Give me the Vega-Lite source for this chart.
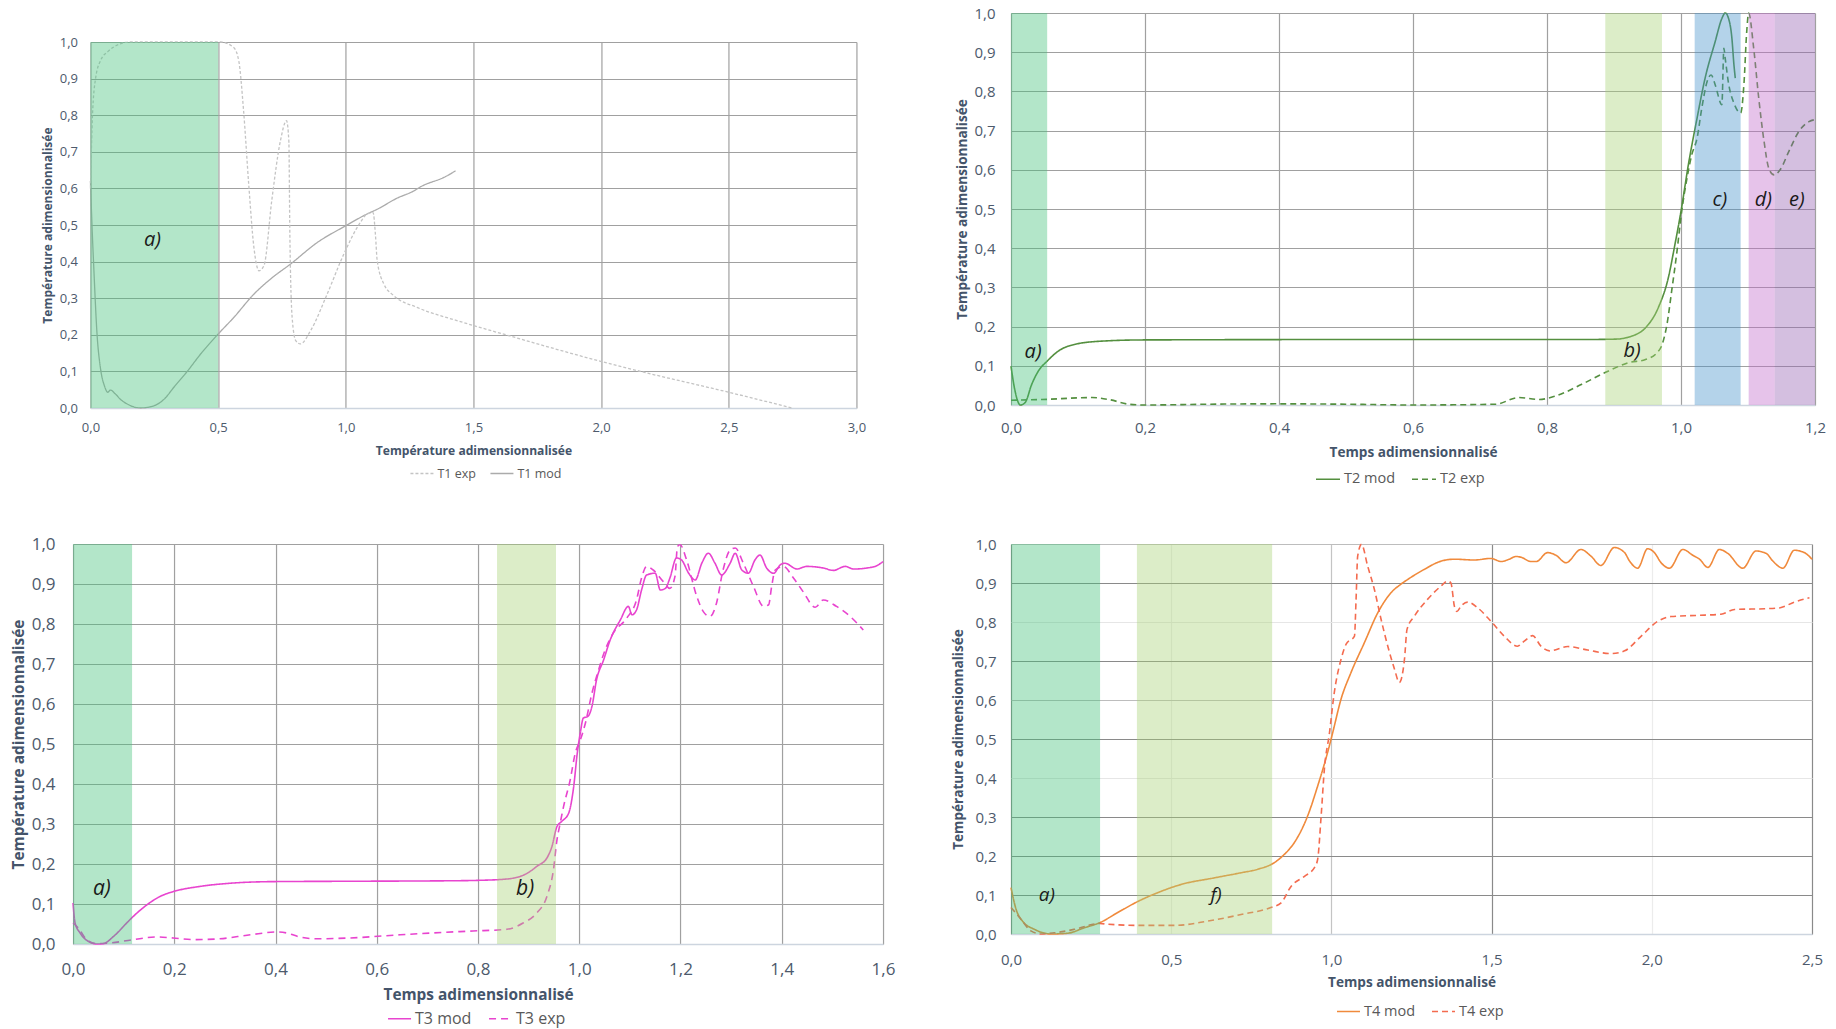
{
"$schema": "https://vega.github.io/schema/vega-lite/v6.json",
"background": "white",
"padding": {"left": 11, "top": 6, "right": 0, "bottom": 6},
"columns": 2,
"align": "each",
"center": true,
"spacing": {"row": 26, "column": 56},
"resolve": {"scale": {"color": "independent", "strokeDash": "independent", "fill": "independent"}},
"config": {
  "font": "Open Sans",
  "view": {"stroke": null},
  "axis": {"ticks": false, "tickSize": 0, "labelColor": "#4d5a6c", "titleColor": "#44546a", "titleFontWeight": "bold", "gridColor": "#a0a0a0", "gridWidth": 1.2, "domain": false, "labelFlush": false, "labelOverlap": false, "tickCount": 30},
  "axisX": {"domain": true, "domainColor": "#cdd5df", "domainWidth": 1.5},
  "legend": {"orient": "none", "direction": "horizontal", "title": null, "symbolType": "stroke", "padding": 0, "labelColor": "#595959", "symbolStrokeWidth": 1.5, "labelOffset": 3}
},
"concat": [
{
  "width": 766, "height": 366,
  "title": {"text": " ", "fontSize": 1, "offset": 0, "anchor": "end", "dx": 12},
  "layer": [
    {"data": {"values": [
      {"s":"T1 mod","t":0,"v":0.62},{"s":"T1 mod","t":0.006,"v":0.5},{"s":"T1 mod","t":0.013,"v":0.385},{"s":"T1 mod","t":0.026,"v":0.2},{"s":"T1 mod","t":0.039,"v":0.11},{"s":"T1 mod","t":0.055,"v":0.06},{"s":"T1 mod","t":0.068,"v":0.043},{"s":"T1 mod","t":0.078,"v":0.049},{"s":"T1 mod","t":0.098,"v":0.038},{"s":"T1 mod","t":0.12,"v":0.022},{"s":"T1 mod","t":0.144,"v":0.011},{"s":"T1 mod","t":0.17,"v":0.003},{"s":"T1 mod","t":0.196,"v":0},{"s":"T1 mod","t":0.248,"v":0.006},{"s":"T1 mod","t":0.29,"v":0.025},{"s":"T1 mod","t":0.326,"v":0.056},{"s":"T1 mod","t":0.379,"v":0.1},{"s":"T1 mod","t":0.431,"v":0.147},{"s":"T1 mod","t":0.5,"v":0.202},{"s":"T1 mod","t":0.561,"v":0.247},{"s":"T1 mod","t":0.64,"v":0.311},{"s":"T1 mod","t":0.71,"v":0.355},{"s":"T1 mod","t":0.783,"v":0.393},{"s":"T1 mod","t":0.888,"v":0.452},{"s":"T1 mod","t":1.0,"v":0.498},{"s":"T1 mod","t":1.083,"v":0.53},{"s":"T1 mod","t":1.123,"v":0.543},{"s":"T1 mod","t":1.2,"v":0.573},{"s":"T1 mod","t":1.266,"v":0.593},{"s":"T1 mod","t":1.292,"v":0.604},{"s":"T1 mod","t":1.39,"v":0.632},{"s":"T1 mod","t":1.43,"v":0.648},
      {"s":"T1 exp","t":0,"v":0.6},{"s":"T1 exp","t":0.008,"v":0.8},{"s":"T1 exp","t":0.02,"v":0.9},{"s":"T1 exp","t":0.04,"v":0.95},{"s":"T1 exp","t":0.07,"v":0.975},{"s":"T1 exp","t":0.117,"v":0.995},{"s":"T1 exp","t":0.15,"v":1.0},{"s":"T1 exp","t":0.509,"v":1.0},{"s":"T1 exp","t":0.561,"v":0.985},{"s":"T1 exp","t":0.581,"v":0.948},{"s":"T1 exp","t":0.6,"v":0.81},{"s":"T1 exp","t":0.62,"v":0.61},{"s":"T1 exp","t":0.64,"v":0.44},{"s":"T1 exp","t":0.66,"v":0.375},{"s":"T1 exp","t":0.68,"v":0.39},{"s":"T1 exp","t":0.71,"v":0.566},{"s":"T1 exp","t":0.744,"v":0.73},{"s":"T1 exp","t":0.768,"v":0.785},{"s":"T1 exp","t":0.777,"v":0.73},{"s":"T1 exp","t":0.781,"v":0.475},{"s":"T1 exp","t":0.79,"v":0.247},{"s":"T1 exp","t":0.804,"v":0.184},{"s":"T1 exp","t":0.822,"v":0.175},{"s":"T1 exp","t":0.862,"v":0.211},{"s":"T1 exp","t":0.927,"v":0.311},{"s":"T1 exp","t":0.992,"v":0.42},{"s":"T1 exp","t":1.057,"v":0.507},{"s":"T1 exp","t":1.083,"v":0.53},{"s":"T1 exp","t":1.107,"v":0.534},{"s":"T1 exp","t":1.116,"v":0.475},{"s":"T1 exp","t":1.123,"v":0.403},{"s":"T1 exp","t":1.149,"v":0.339},{"s":"T1 exp","t":1.188,"v":0.307},{"s":"T1 exp","t":1.279,"v":0.275},{"s":"T1 exp","t":1.449,"v":0.236},{"s":"T1 exp","t":1.632,"v":0.199},{"s":"T1 exp","t":2.001,"v":0.127},{"s":"T1 exp","t":2.154,"v":0.1},{"s":"T1 exp","t":2.5,"v":0.043},{"s":"T1 exp","t":2.748,"v":0.0}
    ]},
    "mark": {"type": "line", "interpolate": "monotone", "strokeWidth": 1.3},
    "encoding": {
      "x": {"field": "t", "type": "quantitative", "scale": {"domain": [0, 3], "nice": false}, "title": "Température adimensionnalisée",
        "axis": {"values": [0,0.5,1,1.5,2,2.5,3], "labelExpr": "replace(format(datum.value,'.1f'),'.',',')", "labelFontSize": 13, "titleFontSize": 12.1, "labelPadding": 13, "titlePadding": 10}},
      "y": {"field": "v", "type": "quantitative", "scale": {"domain": [0, 1], "nice": false}, "title": "Température adimensionnalisée",
        "axis": {"values": [0,0.1,0.2,0.3,0.4,0.5,0.6,0.7,0.8,0.9,1], "labelExpr": "replace(format(datum.value,'.1f'),'.',',')", "labelFontSize": 13, "titleFontSize": 12.1, "labelPadding": 13, "titlePadding": 5}},
      "color": {"field": "s", "type": "nominal", "scale": {"domain": ["T1 exp","T1 mod"], "range": ["#c4c4c4","#ababab"]},
        "legend": {"legendX": 319, "legendY": 419, "symbolSize": 529, "labelFontSize": 12.5, "columnPadding": 11}},
      "strokeDash": {"field": "s", "type": "nominal", "scale": {"domain": ["T1 exp","T1 mod"], "range": [[3,2],[1,0]]},
        "legend": {"legendX": 319, "legendY": 419, "symbolSize": 529, "labelFontSize": 12.5, "columnPadding": 11}}
    }},
    {"data": {"values": [{"zone":"a","t":0,"t2":0.5}]},
     "mark": {"type": "rect", "fillOpacity": 0.4},
     "encoding": {"x": {"field": "t", "type": "quantitative", "title": "Température adimensionnalisée"}, "x2": {"field": "t2"},
       "y": {"datum": 1, "type": "quantitative"}, "y2": {"datum": 0},
       "fill": {"field": "zone", "type": "nominal", "scale": {"domain": ["a"], "range": ["#41c078"]}, "legend": null}}},
    {"data": {"values": [{"t":0.243,"v":0.46,"label":"a)"}]},
     "mark": {"type": "text", "fontStyle": "italic", "fontSize": 20, "color": "#1a1a1a"},
     "encoding": {"x": {"field": "t", "type": "quantitative", "title": "Température adimensionnalisée"}, "y": {"field": "v", "type": "quantitative", "title": "Température adimensionnalisée"}, "text": {"field": "label"}}}
  ]
},
{
  "width": 804, "height": 392,
  "title": {"text": " ", "orient": "bottom", "fontSize": 1, "offset": 22},
  "layer": [
    {"data": {"values": [
      {"s":"T2 mod","t":0,"v":0.099},{"s":"T2 mod","t":0.006,"v":0.036},{"s":"T2 mod","t":0.014,"v":0.0},{"s":"T2 mod","t":0.021,"v":0.006},{"s":"T2 mod","t":0.031,"v":0.053},{"s":"T2 mod","t":0.041,"v":0.087},{"s":"T2 mod","t":0.054,"v":0.112},{"s":"T2 mod","t":0.071,"v":0.138},{"s":"T2 mod","t":0.096,"v":0.155},{"s":"T2 mod","t":0.136,"v":0.163},{"s":"T2 mod","t":0.196,"v":0.166},{"s":"T2 mod","t":0.5,"v":0.167},{"s":"T2 mod","t":0.85,"v":0.167},{"s":"T2 mod","t":0.902,"v":0.168},{"s":"T2 mod","t":0.927,"v":0.176},{"s":"T2 mod","t":0.947,"v":0.197},{"s":"T2 mod","t":0.966,"v":0.248},{"s":"T2 mod","t":0.981,"v":0.324},{"s":"T2 mod","t":0.991,"v":0.41},{"s":"T2 mod","t":1.0,"v":0.494},{"s":"T2 mod","t":1.011,"v":0.613},{"s":"T2 mod","t":1.024,"v":0.732},{"s":"T2 mod","t":1.036,"v":0.834},{"s":"T2 mod","t":1.051,"v":0.927},{"s":"T2 mod","t":1.061,"v":0.986},{"s":"T2 mod","t":1.066,"v":1.0},{"s":"T2 mod","t":1.071,"v":0.986},{"s":"T2 mod","t":1.076,"v":0.935},{"s":"T2 mod","t":1.079,"v":0.868},{"s":"T2 mod","t":1.081,"v":0.834},
      {"s":"T2 exp","t":0,"v":0.012},{"s":"T2 exp","t":0.046,"v":0.014},{"s":"T2 exp","t":0.121,"v":0.019},{"s":"T2 exp","t":0.146,"v":0.014},{"s":"T2 exp","t":0.176,"v":0.002},{"s":"T2 exp","t":0.2,"v":0.0},{"s":"T2 exp","t":0.295,"v":0.002},{"s":"T2 exp","t":0.394,"v":0.003},{"s":"T2 exp","t":0.5,"v":0.002},{"s":"T2 exp","t":0.603,"v":0.0},{"s":"T2 exp","t":0.723,"v":0.002},{"s":"T2 exp","t":0.758,"v":0.019},{"s":"T2 exp","t":0.788,"v":0.014},{"s":"T2 exp","t":0.813,"v":0.023},{"s":"T2 exp","t":0.852,"v":0.053},{"s":"T2 exp","t":0.892,"v":0.087},{"s":"T2 exp","t":0.922,"v":0.108},{"s":"T2 exp","t":0.947,"v":0.116},{"s":"T2 exp","t":0.964,"v":0.133},{"s":"T2 exp","t":0.972,"v":0.155},{"s":"T2 exp","t":0.979,"v":0.205},{"s":"T2 exp","t":0.986,"v":0.29},{"s":"T2 exp","t":0.994,"v":0.392},{"s":"T2 exp","t":1.001,"v":0.494},{"s":"T2 exp","t":1.009,"v":0.579},{"s":"T2 exp","t":1.016,"v":0.638},{"s":"T2 exp","t":1.024,"v":0.681},{"s":"T2 exp","t":1.031,"v":0.757},{"s":"T2 exp","t":1.039,"v":0.825},{"s":"T2 exp","t":1.045,"v":0.842},{"s":"T2 exp","t":1.051,"v":0.817},{"s":"T2 exp","t":1.061,"v":0.766},{"s":"T2 exp","t":1.064,"v":0.91},{"s":"T2 exp","t":1.066,"v":0.884},{"s":"T2 exp","t":1.071,"v":0.82},{"s":"T2 exp","t":1.079,"v":0.77},{"s":"T2 exp","t":1.089,"v":0.745},{"s":"T2 exp","t":1.094,"v":0.82},{"s":"T2 exp","t":1.098,"v":0.95},{"s":"T2 exp","t":1.101,"v":1.0},{"s":"T2 exp","t":1.1085,"v":0.91},{"s":"T2 exp","t":1.116,"v":0.783},{"s":"T2 exp","t":1.124,"v":0.672},{"s":"T2 exp","t":1.131,"v":0.604},{"s":"T2 exp","t":1.139,"v":0.587},{"s":"T2 exp","t":1.148,"v":0.6},{"s":"T2 exp","t":1.161,"v":0.647},{"s":"T2 exp","t":1.176,"v":0.698},{"s":"T2 exp","t":1.191,"v":0.723},{"s":"T2 exp","t":1.2,"v":0.728}
    ]},
    "mark": {"type": "line", "interpolate": "monotone", "strokeWidth": 1.6},
    "encoding": {
      "x": {"field": "t", "type": "quantitative", "scale": {"domain": [0, 1.2], "nice": false}, "title": "Temps adimensionnalisé",
        "axis": {"values": [0,0.2,0.4,0.6,0.8,1,1.2], "labelExpr": "replace(format(datum.value,'.1f'),'.',',')", "labelFontSize": 15, "titleFontSize": 13.6, "labelPadding": 15, "titlePadding": 10}},
      "y": {"field": "v", "type": "quantitative", "scale": {"domain": [0, 1], "nice": false}, "title": "Température adimensionnalisée",
        "axis": {"values": [0,0.1,0.2,0.3,0.4,0.5,0.6,0.7,0.8,0.9,1], "labelExpr": "replace(format(datum.value,'.1f'),'.',',')", "labelFontSize": 15, "titleFontSize": 13.6, "labelPadding": 16, "titlePadding": 4}},
      "color": {"field": "s", "type": "nominal", "scale": {"domain": ["T2 mod","T2 exp"], "range": ["#548f3f","#548f3f"]},
        "legend": {"legendX": 304, "legendY": 453, "symbolSize": 576, "labelFontSize": 14.5, "columnPadding": 13}},
      "strokeDash": {"field": "s", "type": "nominal", "scale": {"domain": ["T2 mod","T2 exp"], "range": [[1,0],[6,4]]},
        "legend": {"legendX": 304, "legendY": 453, "symbolSize": 576, "labelFontSize": 14.5, "columnPadding": 13}}
    }},
    {"data": {"values": [{"zone":"a","t":0,"t2":0.054},{"zone":"b","t":0.887,"t2":0.9716},{"zone":"c","t":1.0204,"t2":1.089},{"zone":"d","t":1.101,"t2":1.1398},{"zone":"e","t":1.1398,"t2":1.2}]},
     "mark": {"type": "rect", "fillOpacity": 0.4},
     "encoding": {"x": {"field": "t", "type": "quantitative", "title": "Temps adimensionnalisé"}, "x2": {"field": "t2"},
       "y": {"datum": 1, "type": "quantitative"}, "y2": {"datum": 0},
       "fill": {"field": "zone", "type": "nominal", "scale": {"domain": ["a","b","c","d","e"], "range": ["#41c078","#a7d275","#4391ca","#c069ca","#935fb1"]}, "legend": null}}},
    {"data": {"values": [{"t":0.033,"v":0.135,"label":"a)"},{"t":0.927,"v":0.138,"label":"b)"},{"t":1.058,"v":0.523,"label":"c)"},{"t":1.123,"v":0.523,"label":"d)"},{"t":1.173,"v":0.523,"label":"e)"}]},
     "mark": {"type": "text", "fontStyle": "italic", "fontSize": 20, "color": "#1a1a1a"},
     "encoding": {"x": {"field": "t", "type": "quantitative", "title": "Temps adimensionnalisé"}, "y": {"field": "v", "type": "quantitative", "title": "Température adimensionnalisée"}, "text": {"field": "label"}}}
  ]
},
{
  "width": 810, "height": 400,
  "layer": [
    {"data": {"values": [
      {"s":"T3 mod","t":0,"v":0.1025},{"s":"T3 mod","t":0.004,"v":0.0525},{"s":"T3 mod","t":0.014,"v":0.0275},{"s":"T3 mod","t":0.034,"v":0.004},{"s":"T3 mod","t":0.047,"v":0},{"s":"T3 mod","t":0.06,"v":0.001},{"s":"T3 mod","t":0.08,"v":0.019},{"s":"T3 mod","t":0.106,"v":0.0525},{"s":"T3 mod","t":0.119,"v":0.069},{"s":"T3 mod","t":0.146,"v":0.098},{"s":"T3 mod","t":0.172,"v":0.119},{"s":"T3 mod","t":0.198,"v":0.131},{"s":"T3 mod","t":0.251,"v":0.144},{"s":"T3 mod","t":0.317,"v":0.1525},{"s":"T3 mod","t":0.396,"v":0.156},{"s":"T3 mod","t":0.514,"v":0.1567},{"s":"T3 mod","t":0.765,"v":0.1583},{"s":"T3 mod","t":0.797,"v":0.159},{"s":"T3 mod","t":0.857,"v":0.1625},{"s":"T3 mod","t":0.896,"v":0.176},{"s":"T3 mod","t":0.916,"v":0.194},{"s":"T3 mod","t":0.936,"v":0.215},{"s":"T3 mod","t":0.946,"v":0.244},{"s":"T3 mod","t":0.956,"v":0.294},{"s":"T3 mod","t":0.965,"v":0.306},{"s":"T3 mod","t":0.979,"v":0.327},{"s":"T3 mod","t":0.989,"v":0.394},{"s":"T3 mod","t":0.996,"v":0.477},{"s":"T3 mod","t":1.002,"v":0.5275},{"s":"T3 mod","t":1.008,"v":0.565},{"s":"T3 mod","t":1.017,"v":0.569},{"s":"T3 mod","t":1.025,"v":0.594},{"s":"T3 mod","t":1.034,"v":0.66},{"s":"T3 mod","t":1.048,"v":0.71},{"s":"T3 mod","t":1.061,"v":0.76},{"s":"T3 mod","t":1.081,"v":0.81},{"s":"T3 mod","t":1.097,"v":0.844},{"s":"T3 mod","t":1.104,"v":0.823},{"s":"T3 mod","t":1.113,"v":0.835},{"s":"T3 mod","t":1.123,"v":0.885},{"s":"T3 mod","t":1.133,"v":0.9225},{"s":"T3 mod","t":1.15,"v":0.927},{"s":"T3 mod","t":1.16,"v":0.885},{"s":"T3 mod","t":1.17,"v":0.889},{"s":"T3 mod","t":1.179,"v":0.915},{"s":"T3 mod","t":1.192,"v":0.965},{"s":"T3 mod","t":1.202,"v":0.96},{"s":"T3 mod","t":1.216,"v":0.927},{"s":"T3 mod","t":1.229,"v":0.91},{"s":"T3 mod","t":1.242,"v":0.952},{"s":"T3 mod","t":1.255,"v":0.977},{"s":"T3 mod","t":1.268,"v":0.952},{"s":"T3 mod","t":1.281,"v":0.9225},{"s":"T3 mod","t":1.298,"v":0.952},{"s":"T3 mod","t":1.308,"v":0.977},{"s":"T3 mod","t":1.321,"v":0.935},{"s":"T3 mod","t":1.334,"v":0.927},{"s":"T3 mod","t":1.347,"v":0.96},{"s":"T3 mod","t":1.357,"v":0.9725},{"s":"T3 mod","t":1.37,"v":0.94},{"s":"T3 mod","t":1.384,"v":0.927},{"s":"T3 mod","t":1.397,"v":0.948},{"s":"T3 mod","t":1.406,"v":0.952},{"s":"T3 mod","t":1.43,"v":0.9375},{"s":"T3 mod","t":1.449,"v":0.944},{"s":"T3 mod","t":1.482,"v":0.94},{"s":"T3 mod","t":1.502,"v":0.934},{"s":"T3 mod","t":1.525,"v":0.944},{"s":"T3 mod","t":1.542,"v":0.9375},{"s":"T3 mod","t":1.568,"v":0.94},{"s":"T3 mod","t":1.588,"v":0.946},{"s":"T3 mod","t":1.6,"v":0.956},
      {"s":"T3 exp","t":0,"v":0.0525},{"s":"T3 exp","t":0.0105,"v":0.04},{"s":"T3 exp","t":0.027,"v":0.011},{"s":"T3 exp","t":0.047,"v":0.001},{"s":"T3 exp","t":0.073,"v":0.0025},{"s":"T3 exp","t":0.119,"v":0.011},{"s":"T3 exp","t":0.165,"v":0.0175},{"s":"T3 exp","t":0.198,"v":0.015},{"s":"T3 exp","t":0.238,"v":0.011},{"s":"T3 exp","t":0.284,"v":0.0125},{"s":"T3 exp","t":0.35,"v":0.023},{"s":"T3 exp","t":0.402,"v":0.03},{"s":"T3 exp","t":0.422,"v":0.0275},{"s":"T3 exp","t":0.448,"v":0.0175},{"s":"T3 exp","t":0.481,"v":0.013},{"s":"T3 exp","t":0.547,"v":0.015},{"s":"T3 exp","t":0.646,"v":0.023},{"s":"T3 exp","t":0.764,"v":0.031},{"s":"T3 exp","t":0.79,"v":0.0325},{"s":"T3 exp","t":0.857,"v":0.0367},{"s":"T3 exp","t":0.889,"v":0.0525},{"s":"T3 exp","t":0.916,"v":0.0775},{"s":"T3 exp","t":0.936,"v":0.119},{"s":"T3 exp","t":0.949,"v":0.186},{"s":"T3 exp","t":0.956,"v":0.261},{"s":"T3 exp","t":0.961,"v":0.294},{"s":"T3 exp","t":0.969,"v":0.344},{"s":"T3 exp","t":0.982,"v":0.41},{"s":"T3 exp","t":0.992,"v":0.477},{"s":"T3 exp","t":1.002,"v":0.51},{"s":"T3 exp","t":1.012,"v":0.552},{"s":"T3 exp","t":1.025,"v":0.627},{"s":"T3 exp","t":1.038,"v":0.685},{"s":"T3 exp","t":1.051,"v":0.735},{"s":"T3 exp","t":1.067,"v":0.777},{"s":"T3 exp","t":1.094,"v":0.815},{"s":"T3 exp","t":1.113,"v":0.86},{"s":"T3 exp","t":1.123,"v":0.915},{"s":"T3 exp","t":1.133,"v":0.944},{"s":"T3 exp","t":1.146,"v":0.935},{"s":"T3 exp","t":1.166,"v":0.906},{"s":"T3 exp","t":1.179,"v":0.889},{"s":"T3 exp","t":1.189,"v":0.919},{"s":"T3 exp","t":1.194,"v":0.994},{"s":"T3 exp","t":1.199,"v":0.998},{"s":"T3 exp","t":1.212,"v":0.96},{"s":"T3 exp","t":1.232,"v":0.869},{"s":"T3 exp","t":1.245,"v":0.831},{"s":"T3 exp","t":1.258,"v":0.819},{"s":"T3 exp","t":1.271,"v":0.852},{"s":"T3 exp","t":1.284,"v":0.935},{"s":"T3 exp","t":1.298,"v":0.985},{"s":"T3 exp","t":1.308,"v":0.99},{"s":"T3 exp","t":1.324,"v":0.952},{"s":"T3 exp","t":1.344,"v":0.894},{"s":"T3 exp","t":1.364,"v":0.844},{"s":"T3 exp","t":1.374,"v":0.848},{"s":"T3 exp","t":1.38,"v":0.894},{"s":"T3 exp","t":1.387,"v":0.935},{"s":"T3 exp","t":1.403,"v":0.944},{"s":"T3 exp","t":1.423,"v":0.915},{"s":"T3 exp","t":1.442,"v":0.881},{"s":"T3 exp","t":1.466,"v":0.842},{"s":"T3 exp","t":1.482,"v":0.86},{"s":"T3 exp","t":1.508,"v":0.844},{"s":"T3 exp","t":1.535,"v":0.819},{"s":"T3 exp","t":1.561,"v":0.785}
    ]},
    "mark": {"type": "line", "interpolate": "monotone", "strokeWidth": 1.6},
    "encoding": {
      "x": {"field": "t", "type": "quantitative", "scale": {"domain": [0, 1.6], "nice": false}, "title": "Temps adimensionnalisé",
        "axis": {"values": [0,0.2,0.4,0.6,0.8,1,1.2,1.4,1.6], "labelExpr": "replace(format(datum.value,'.1f'),'.',',')", "labelFontSize": 17, "titleFontSize": 15.4, "labelPadding": 17, "titlePadding": 10}},
      "y": {"field": "v", "type": "quantitative", "scale": {"domain": [0, 1], "nice": false}, "title": "Température adimensionnalisée",
        "axis": {"values": [0,0.1,0.2,0.3,0.4,0.5,0.6,0.7,0.8,0.9,1], "labelExpr": "replace(format(datum.value,'.1f'),'.',',')", "labelFontSize": 17, "titleFontSize": 15.4, "labelPadding": 18, "titlePadding": 5}},
      "color": {"field": "s", "type": "nominal", "scale": {"domain": ["T3 mod","T3 exp"], "range": ["#e844cf","#e844cf"]},
        "legend": {"legendX": 314, "legendY": 462, "symbolSize": 529, "labelFontSize": 16, "columnPadding": 14}},
      "strokeDash": {"field": "s", "type": "nominal", "scale": {"domain": ["T3 mod","T3 exp"], "range": [[1,0],[7,5]]},
        "legend": {"legendX": 314, "legendY": 462, "symbolSize": 529, "labelFontSize": 16, "columnPadding": 14}}
    }},
    {"data": {"values": [{"zone":"a","t":0,"t2":0.1166},{"zone":"b","t":0.8375,"t2":0.954}]},
     "mark": {"type": "rect", "fillOpacity": 0.4},
     "encoding": {"x": {"field": "t", "type": "quantitative", "title": "Temps adimensionnalisé"}, "x2": {"field": "t2"},
       "y": {"datum": 1, "type": "quantitative"}, "y2": {"datum": 0},
       "fill": {"field": "zone", "type": "nominal", "scale": {"domain": ["a","b"], "range": ["#41c078","#a7d275"]}, "legend": null}}},
    {"data": {"values": [{"t":0.057,"v":0.1375,"label":"a)"},{"t":0.893,"v":0.1375,"label":"b)"}]},
     "mark": {"type": "text", "fontStyle": "italic", "fontSize": 21, "color": "#1a1a1a"},
     "encoding": {"x": {"field": "t", "type": "quantitative", "title": "Temps adimensionnalisé"}, "y": {"field": "v", "type": "quantitative", "title": "Température adimensionnalisée"}, "text": {"field": "label"}}}
  ]
},
{
  "width": 801, "height": 390,
  "layer": [
    {"data": {"values": [
      {"s":"T4 mod","t":0,"v":0.119},{"s":"T4 mod","t":0.016,"v":0.063},{"s":"T4 mod","t":0.036,"v":0.033},{"s":"T4 mod","t":0.073,"v":0.012},{"s":"T4 mod","t":0.125,"v":0},{"s":"T4 mod","t":0.177,"v":0.002},{"s":"T4 mod","t":0.229,"v":0.016},{"s":"T4 mod","t":0.277,"v":0.029},{"s":"T4 mod","t":0.333,"v":0.055},{"s":"T4 mod","t":0.395,"v":0.083},{"s":"T4 mod","t":0.458,"v":0.106},{"s":"T4 mod","t":0.531,"v":0.127},{"s":"T4 mod","t":0.635,"v":0.144},{"s":"T4 mod","t":0.718,"v":0.157},{"s":"T4 mod","t":0.77,"v":0.166},{"s":"T4 mod","t":0.822,"v":0.183},{"s":"T4 mod","t":0.853,"v":0.204},{"s":"T4 mod","t":0.884,"v":0.234},{"s":"T4 mod","t":0.926,"v":0.303},{"s":"T4 mod","t":0.957,"v":0.379},{"s":"T4 mod","t":0.988,"v":0.465},{"s":"T4 mod","t":1.004,"v":0.516},{"s":"T4 mod","t":1.03,"v":0.602},{"s":"T4 mod","t":1.061,"v":0.67},{"s":"T4 mod","t":1.103,"v":0.747},{"s":"T4 mod","t":1.145,"v":0.824},{"s":"T4 mod","t":1.186,"v":0.875},{"s":"T4 mod","t":1.217,"v":0.897},{"s":"T4 mod","t":1.238,"v":0.909},{"s":"T4 mod","t":1.29,"v":0.935},{"s":"T4 mod","t":1.342,"v":0.956},{"s":"T4 mod","t":1.384,"v":0.961},{"s":"T4 mod","t":1.446,"v":0.959},{"s":"T4 mod","t":1.498,"v":0.963},{"s":"T4 mod","t":1.53,"v":0.955},{"s":"T4 mod","t":1.555,"v":0.961},{"s":"T4 mod","t":1.576,"v":0.968},{"s":"T4 mod","t":1.592,"v":0.966},{"s":"T4 mod","t":1.623,"v":0.955},{"s":"T4 mod","t":1.639,"v":0.955},{"s":"T4 mod","t":1.675,"v":0.978},{"s":"T4 mod","t":1.701,"v":0.971},{"s":"T4 mod","t":1.732,"v":0.952},{"s":"T4 mod","t":1.779,"v":0.986},{"s":"T4 mod","t":1.81,"v":0.969},{"s":"T4 mod","t":1.841,"v":0.945},{"s":"T4 mod","t":1.883,"v":0.991},{"s":"T4 mod","t":1.915,"v":0.978},{"s":"T4 mod","t":1.93,"v":0.957},{"s":"T4 mod","t":1.956,"v":0.938},{"s":"T4 mod","t":1.987,"v":0.988},{"s":"T4 mod","t":2.008,"v":0.978},{"s":"T4 mod","t":2.029,"v":0.952},{"s":"T4 mod","t":2.055,"v":0.938},{"s":"T4 mod","t":2.097,"v":0.986},{"s":"T4 mod","t":2.128,"v":0.971},{"s":"T4 mod","t":2.149,"v":0.961},{"s":"T4 mod","t":2.175,"v":0.94},{"s":"T4 mod","t":2.211,"v":0.986},{"s":"T4 mod","t":2.237,"v":0.976},{"s":"T4 mod","t":2.284,"v":0.938},{"s":"T4 mod","t":2.325,"v":0.982},{"s":"T4 mod","t":2.357,"v":0.976},{"s":"T4 mod","t":2.377,"v":0.957},{"s":"T4 mod","t":2.409,"v":0.938},{"s":"T4 mod","t":2.445,"v":0.984},{"s":"T4 mod","t":2.476,"v":0.978},{"s":"T4 mod","t":2.5,"v":0.961},
      {"s":"T4 exp","t":0,"v":0.068},{"s":"T4 exp","t":0.031,"v":0.038},{"s":"T4 exp","t":0.062,"v":0.008},{"s":"T4 exp","t":0.094,"v":0},{"s":"T4 exp","t":0.135,"v":0.003},{"s":"T4 exp","t":0.198,"v":0.012},{"s":"T4 exp","t":0.277,"v":0.027},{"s":"T4 exp","t":0.302,"v":0.025},{"s":"T4 exp","t":0.406,"v":0.022},{"s":"T4 exp","t":0.51,"v":0.022},{"s":"T4 exp","t":0.614,"v":0.033},{"s":"T4 exp","t":0.718,"v":0.05},{"s":"T4 exp","t":0.811,"v":0.068},{"s":"T4 exp","t":0.843,"v":0.08},{"s":"T4 exp","t":0.874,"v":0.122},{"s":"T4 exp","t":0.916,"v":0.148},{"s":"T4 exp","t":0.947,"v":0.17},{"s":"T4 exp","t":0.957,"v":0.191},{"s":"T4 exp","t":0.968,"v":0.303},{"s":"T4 exp","t":0.978,"v":0.422},{"s":"T4 exp","t":0.994,"v":0.516},{"s":"T4 exp","t":1.009,"v":0.619},{"s":"T4 exp","t":1.03,"v":0.704},{"s":"T4 exp","t":1.046,"v":0.743},{"s":"T4 exp","t":1.072,"v":0.764},{"s":"T4 exp","t":1.077,"v":0.858},{"s":"T4 exp","t":1.082,"v":0.969},{"s":"T4 exp","t":1.094,"v":0.999},{"s":"T4 exp","t":1.113,"v":0.944},{"s":"T4 exp","t":1.134,"v":0.884},{"s":"T4 exp","t":1.155,"v":0.807},{"s":"T4 exp","t":1.176,"v":0.738},{"s":"T4 exp","t":1.197,"v":0.679},{"s":"T4 exp","t":1.212,"v":0.645},{"s":"T4 exp","t":1.228,"v":0.704},{"s":"T4 exp","t":1.236,"v":0.781},{"s":"T4 exp","t":1.259,"v":0.815},{"s":"T4 exp","t":1.3,"v":0.858},{"s":"T4 exp","t":1.342,"v":0.892},{"s":"T4 exp","t":1.363,"v":0.905},{"s":"T4 exp","t":1.373,"v":0.9},{"s":"T4 exp","t":1.384,"v":0.84},{"s":"T4 exp","t":1.392,"v":0.827},{"s":"T4 exp","t":1.404,"v":0.84},{"s":"T4 exp","t":1.425,"v":0.851},{"s":"T4 exp","t":1.457,"v":0.836},{"s":"T4 exp","t":1.498,"v":0.802},{"s":"T4 exp","t":1.539,"v":0.764},{"s":"T4 exp","t":1.581,"v":0.738},{"s":"T4 exp","t":1.602,"v":0.751},{"s":"T4 exp","t":1.628,"v":0.765},{"s":"T4 exp","t":1.654,"v":0.738},{"s":"T4 exp","t":1.681,"v":0.726},{"s":"T4 exp","t":1.738,"v":0.737},{"s":"T4 exp","t":1.8,"v":0.728},{"s":"T4 exp","t":1.873,"v":0.719},{"s":"T4 exp","t":1.915,"v":0.726},{"s":"T4 exp","t":1.967,"v":0.764},{"s":"T4 exp","t":2.019,"v":0.802},{"s":"T4 exp","t":2.06,"v":0.814},{"s":"T4 exp","t":2.144,"v":0.817},{"s":"T4 exp","t":2.216,"v":0.82},{"s":"T4 exp","t":2.258,"v":0.832},{"s":"T4 exp","t":2.352,"v":0.834},{"s":"T4 exp","t":2.398,"v":0.836},{"s":"T4 exp","t":2.445,"v":0.851},{"s":"T4 exp","t":2.492,"v":0.862}
    ]},
    "mark": {"type": "line", "interpolate": "monotone", "strokeWidth": 1.6},
    "encoding": {
      "x": {"field": "t", "type": "quantitative", "scale": {"domain": [0, 2.5], "nice": false}, "title": "Temps adimensionnalisé",
        "axis": {"values": [0,0.5,1,1.5,2,2.5], "labelExpr": "replace(format(datum.value,'.1f'),'.',',')", "labelFontSize": 15, "titleFontSize": 13.6, "labelPadding": 18, "titlePadding": 8,
          "gridColor": {"condition": [{"test": "datum.value == 0.5 || datum.value == 2", "value": "#ececec"}, {"test": "datum.value == 1", "value": "#c4c4c4"}], "value": "#8a8a8a"}}},
      "y": {"field": "v", "type": "quantitative", "scale": {"domain": [0, 1], "nice": false}, "title": "Température adimensionnalisée",
        "axis": {"values": [0,0.1,0.2,0.3,0.4,0.5,0.6,0.7,0.8,0.9,1], "labelExpr": "replace(format(datum.value,'.1f'),'.',',')", "labelFontSize": 15, "titleFontSize": 13.6, "labelPadding": 15, "titlePadding": 9,
          "gridColor": {"condition": [{"test": "datum.value == 0.4 || datum.value == 0.8", "value": "#e6e6e6"}, {"test": "datum.value == 1 || datum.value == 0.6", "value": "#bdbdbd"}], "value": "#8a8a8a"}}},
      "color": {"field": "s", "type": "nominal", "scale": {"domain": ["T4 mod","T4 exp"], "range": ["#f08a3c","#f46b4f"]},
        "legend": {"legendX": 325, "legendY": 455, "symbolSize": 529, "labelFontSize": 14.5, "columnPadding": 13}},
      "strokeDash": {"field": "s", "type": "nominal", "scale": {"domain": ["T4 mod","T4 exp"], "range": [[1,0],[6,4]]},
        "legend": {"legendX": 325, "legendY": 455, "symbolSize": 529, "labelFontSize": 14.5, "columnPadding": 13}}
    }},
    {"data": {"values": [{"zone":"a","t":0,"t2":0.278},{"zone":"f","t":0.393,"t2":0.815}]},
     "mark": {"type": "rect", "fillOpacity": 0.4},
     "encoding": {"x": {"field": "t", "type": "quantitative", "title": "Temps adimensionnalisé"}, "x2": {"field": "t2"},
       "y": {"datum": 1, "type": "quantitative"}, "y2": {"datum": 0},
       "fill": {"field": "zone", "type": "nominal", "scale": {"domain": ["a","f"], "range": ["#41c078","#a7d275"]}, "legend": null}}},
    {"data": {"values": [{"t":0.112,"v":0.1,"label":"a)"},{"t":0.64,"v":0.1,"label":"f)"}]},
     "mark": {"type": "text", "fontStyle": "italic", "fontSize": 19, "color": "#1a1a1a"},
     "encoding": {"x": {"field": "t", "type": "quantitative", "title": "Temps adimensionnalisé"}, "y": {"field": "v", "type": "quantitative", "title": "Température adimensionnalisée"}, "text": {"field": "label"}}}
  ]
}
]
}
